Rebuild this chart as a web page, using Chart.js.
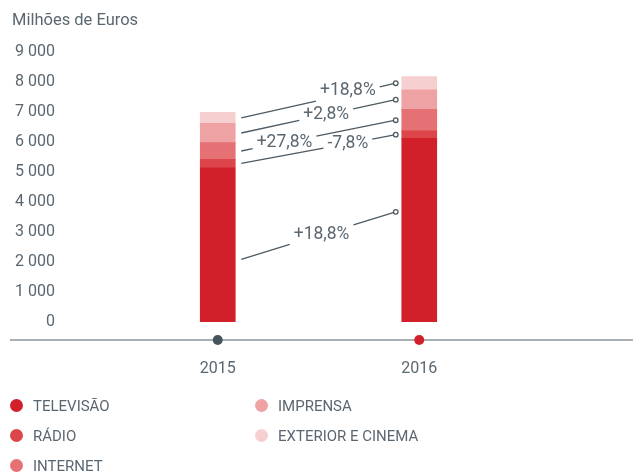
<!DOCTYPE html>
<html>
<head>
<meta charset="utf-8">
<script src="https://cdn.jsdelivr.net/npm/chart.js@4.4.1/dist/chart.umd.min.js"></script>
<style>
  body { margin: 0; background: #fff; font-family: Roboto, sans-serif; color: #5b6770; }
  #wrap { position: relative; width: 633px; height: 473px; }
  #title { position: absolute; left: 12px; top: 10px; font-size: 16.5px; }
  #legend { position: absolute; left: 10px; top: 396px; width: 600px; }
  .item { position: absolute; font-size: 15px; line-height: 20px; white-space: nowrap; }
  .dot { display: inline-block; width: 13px; height: 13px; border-radius: 50%; vertical-align: -1px; margin-right: 10px; }
</style>
</head>
<body>
<div id="wrap">
  <canvas id="myChart" width="633" height="473"></canvas>
  <div id="title">Milhões de Euros</div>
  <div id="legend"></div>
</div>
<script>
const years = ['2015', '2016'];
const media = ['TELEVISÃO', 'RÁDIO', 'INTERNET', 'IMPRENSA', 'EXTERIOR E CINEMA'];
const televisao = [5150, 6120];
const radio = [270, 250];
const internet = [560, 715];
const imprensa = [640, 655];
const exterior = [370, 440];
const variacao = ['+18,8%', '-7,8%', '+27,8%', '+2,8%', '+18,8%'];
const yTicks = [0, 1000, 2000, 3000, 4000, 5000, 6000, 7000, 8000, 9000];

const colors = ['#d2202b', '#dc4549', '#e67174', '#eea2a4', '#f6d0d1'];
const series = [televisao, radio, internet, imprensa, exterior];

// where the connector line meets each band (fraction from band bottom), and where its label sits on it
const anchors = [[0.405, 0.60], [0.5, 0.5], [0.5, 0.5], [0.5, 0.5], [0.5, 0.5]];
const labelAt = [0.52, 0.69, 0.28, 0.55, 0.69];

const connectors = {
    id: 'connectors',
    afterDatasetsDraw(chart) {
        const ctx = chart.ctx;
        ctx.save();
        ctx.font = '17.5px Roboto';
        ctx.textAlign = 'center';
        ctx.textBaseline = 'middle';
        ctx.strokeStyle = '#4d5a62';
        ctx.fillStyle = '#5b6770';
        ctx.lineWidth = 1.3;
        for (let d = 0; d < series.length; d++) {
            const meta = chart.getDatasetMeta(d);
            const a = meta.data[0], b = meta.data[1];
            const x0 = a.x + a.width / 2 + 6;
            const x1 = b.x - b.width / 2 - 6;
            const y0 = a.base + (a.y - a.base) * anchors[d][0];
            const y1 = b.base + (b.y - b.base) * anchors[d][1];
            const slope = (y1 - y0) / (x1 - x0);
            const xc = x0 + (x1 - x0) * labelAt[d];
            const yc = y0 + slope * (xc - x0);
            const w = ctx.measureText(variacao[d]).width;
            const gl = xc - w / 2 - 4, gr = xc + w / 2 + 4;
            ctx.beginPath();
            ctx.moveTo(x0, y0);
            ctx.lineTo(gl, y0 + slope * (gl - x0));
            ctx.moveTo(gr, y0 + slope * (gr - x0));
            ctx.lineTo(x1, y1);
            ctx.stroke();
            ctx.beginPath();
            ctx.arc(x1, y1, 2.3, 0, Math.PI * 2);
            ctx.fillStyle = '#fff';
            ctx.fill();
            ctx.stroke();
            ctx.fillStyle = '#5b6770';
            ctx.fillText(variacao[d], xc, yc - (d == 4 ? 3 : 0));
        }
        // base line with year dots
        const xs = chart.scales.x;
        ctx.strokeStyle = '#8c969c';
        ctx.lineWidth = 1.5;
        ctx.beginPath();
        ctx.moveTo(10, 340);
        ctx.lineTo(633, 340);
        ctx.stroke();
        const dotColors = ['#46545c', '#d2202b'];
        years.forEach((y, i) => {
            ctx.beginPath();
            ctx.arc(xs.getPixelForValue(i), 340, 5, 0, Math.PI * 2);
            ctx.fillStyle = dotColors[i];
            ctx.fill();
        });
        ctx.restore();
    }
};

var chart = new Chart("myChart", {
    type: "bar",
    data: {
        labels: years,
        datasets: media.map((m, i) => ({
            label: m,
            data: series[i],
            backgroundColor: colors[i],
            borderWidth: 0,
            barThickness: 35
        }))
    },
    options: {
        responsive: false,
        animation: false,
        layout: { padding: { top: 52, right: 113, bottom: 91, left: 0 } },
        plugins: { legend: { display: false }, tooltip: { enabled: false } },
        scales: {
            x: {
                stacked: true,
                grid: { display: false, drawTicks: false },
                border: { display: false },
                ticks: { color: '#5b6770', font: { family: 'Roboto', size: 16 }, padding: 37 },
                afterFit(s) { s.height = 60; }
            },
            y: {
                stacked: true,
                min: 0,
                max: 9000,
                afterBuildTicks(s) { s.ticks = yTicks.map(v => ({ value: v })); },
                grid: { display: false, drawTicks: false },
                border: { display: false },
                ticks: {
                    color: '#5b6770',
                    font: { family: 'Roboto', size: 16 },
                    padding: 62,
                    callback: v => v >= 1000 ? Math.floor(v / 1000) + ' 000' : String(v)
                },
                afterFit(s) { s.width = 117; s.paddingTop = 0; s.paddingBottom = 0; }
            }
        }
    },
    plugins: [connectors]
});

// legend, two columns
const legend = document.getElementById('legend');
media.forEach((m, i) => {
    const el = document.createElement('div');
    el.className = 'item';
    el.style.left = (i < 3 ? 0 : 245) + 'px';
    el.style.top = ((i % 3) * 30) + 'px';
    el.innerHTML = '<span class="dot" style="background:' + colors[i] + '"></span>' + m;
    legend.appendChild(el);
});
</script>
</body>
</html>
